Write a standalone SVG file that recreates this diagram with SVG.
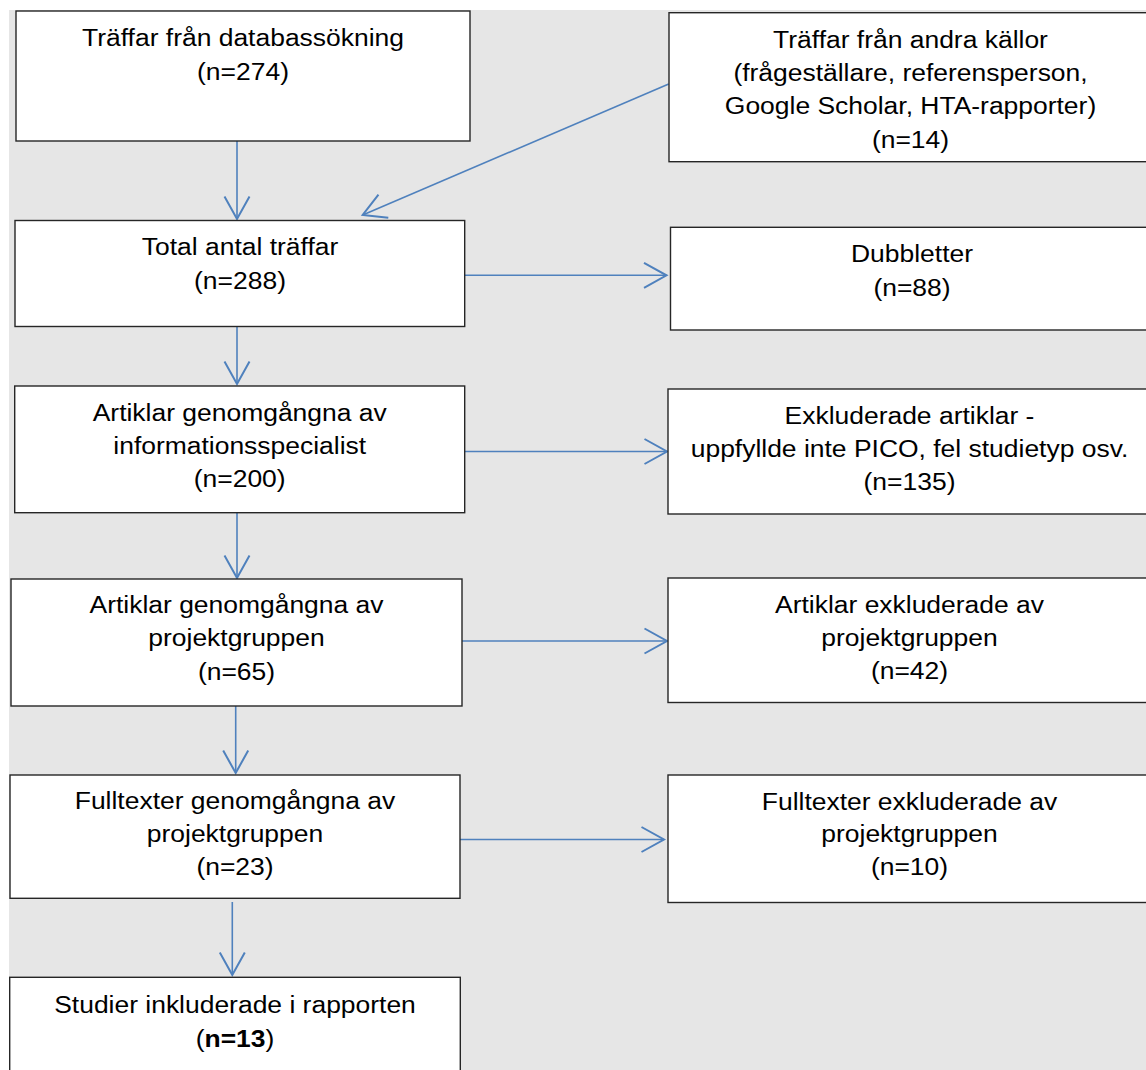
<svg xmlns="http://www.w3.org/2000/svg" width="1146" height="1070" viewBox="0 0 1146 1070">
<style>
.box{fill:#ffffff;stroke:#262626;stroke-width:1.4}
.t{font-family:"Liberation Sans",Arial,sans-serif;font-size:24.5px;fill:#000;text-anchor:middle}
.c{fill:none;stroke:#4f81bd;stroke-width:1.6}
</style>
<defs>
<marker id="ah" markerUnits="userSpaceOnUse" markerWidth="30" markerHeight="30" viewBox="-20 -12 22 24" refX="0" refY="0" orient="auto">
<path d="M-18,-10 L0,0 L-18,10" fill="none" stroke="#4f81bd" stroke-width="1.6"/>
</marker>
</defs>
<rect x="0" y="0" width="1146" height="1070" fill="#ffffff"/>
<rect x="9" y="10" width="1137" height="1060" fill="#e6e6e6"/>

<g id="connectors">
<line class="c" x1="237" y1="141" x2="237" y2="219" marker-end="url(#ah)"/>
<line class="c" x1="668.7" y1="84" x2="362.7" y2="215" marker-end="url(#ah)"/>
<line class="c" x1="465" y1="275.3" x2="666.5" y2="275.3" marker-end="url(#ah)"/>
<line class="c" x1="237" y1="326" x2="237" y2="384" marker-end="url(#ah)"/>
<line class="c" x1="465" y1="451.5" x2="667" y2="451.5" marker-end="url(#ah)"/>
<line class="c" x1="237" y1="513" x2="237" y2="578" marker-end="url(#ah)"/>
<line class="c" x1="462" y1="641" x2="667" y2="641" marker-end="url(#ah)"/>
<line class="c" x1="235.7" y1="706" x2="235.7" y2="773" marker-end="url(#ah)"/>
<line class="c" x1="460" y1="839.5" x2="664" y2="839.5" marker-end="url(#ah)"/>
<line class="c" x1="232.3" y1="902" x2="232.3" y2="975" marker-end="url(#ah)"/>
</g>

<g id="n1">
<rect class="box" x="16" y="11" width="454" height="130"/>
<g transform="translate(243,0) scale(1.08,1)">
<text class="t" x="0" y="45.7">Träffar från databassökning</text>
<text class="t" x="0" y="79.7">(n=274)</text>
</g>
</g>

<g id="n2">
<rect class="box" x="669" y="12.7" width="490" height="149"/>
<g transform="translate(910.5,0) scale(1.08,1)">
<text class="t" x="0" y="47.7">Träffar från andra källor</text>
<text class="t" x="0" y="81">(frågeställare, referensperson,</text>
<text class="t" x="0" y="114.3">Google Scholar, HTA-rapporter)</text>
<text class="t" x="0" y="147.7">(n=14)</text>
</g>
</g>

<g id="n3">
<rect class="box" x="15" y="220.5" width="449.7" height="106"/>
<g transform="translate(240,0) scale(1.08,1)">
<text class="t" x="0" y="255">Total antal träffar</text>
<text class="t" x="0" y="289">(n=288)</text>
</g>
</g>

<g id="n4">
<rect class="box" x="670.5" y="227.3" width="490" height="102.7"/>
<g transform="translate(912,0) scale(1.08,1)">
<text class="t" x="0" y="262.3">Dubbletter</text>
<text class="t" x="0" y="295.7">(n=88)</text>
</g>
</g>

<g id="n5">
<rect class="box" x="14.7" y="386" width="450" height="126.7"/>
<g transform="translate(239.7,0) scale(1.08,1)">
<text class="t" x="0" y="421">Artiklar genomgångna av</text>
<text class="t" x="0" y="454">informationsspecialist</text>
<text class="t" x="0" y="487">(n=200)</text>
</g>
</g>

<g id="n6">
<rect class="box" x="668" y="389" width="490" height="125"/>
<g transform="translate(909.5,0) scale(1.08,1)">
<text class="t" x="0" y="424.3">Exkluderade artiklar -</text>
<text class="t" x="0" y="457.3">uppfyllde inte PICO, fel studietyp osv.</text>
<text class="t" x="0" y="490.5">(n=135)</text>
</g>
</g>

<g id="n7">
<rect class="box" x="11" y="579" width="451" height="127"/>
<g transform="translate(236.5,0) scale(1.08,1)">
<text class="t" x="0" y="613.3">Artiklar genomgångna av</text>
<text class="t" x="0" y="646.5">projektgruppen</text>
<text class="t" x="0" y="680">(n=65)</text>
</g>
</g>

<g id="n8">
<rect class="box" x="668" y="578" width="490" height="124.5"/>
<g transform="translate(909.5,0) scale(1.08,1)">
<text class="t" x="0" y="613">Artiklar exkluderade av</text>
<text class="t" x="0" y="646">projektgruppen</text>
<text class="t" x="0" y="679">(n=42)</text>
</g>
</g>

<g id="n9">
<rect class="box" x="10" y="775" width="450" height="123.3"/>
<g transform="translate(235,0) scale(1.08,1)">
<text class="t" x="0" y="809.3">Fulltexter genomgångna av</text>
<text class="t" x="0" y="842">projektgruppen</text>
<text class="t" x="0" y="875">(n=23)</text>
</g>
</g>

<g id="n10">
<rect class="box" x="668" y="775" width="490" height="127.5"/>
<g transform="translate(909.5,0) scale(1.08,1)">
<text class="t" x="0" y="809.7">Fulltexter exkluderade av</text>
<text class="t" x="0" y="842.4">projektgruppen</text>
<text class="t" x="0" y="875.2">(n=10)</text>
</g>
</g>

<g id="n11">
<rect class="box" x="9.7" y="977.3" width="450.6" height="110"/>
<g transform="translate(235,0) scale(1.08,1)">
<text class="t" x="0" y="1012.7">Studier inkluderade i rapporten</text>
<text class="t" x="0" y="1046.7">(<tspan font-weight="bold">n=13</tspan>)</text>
</g>
</g>
</svg>
